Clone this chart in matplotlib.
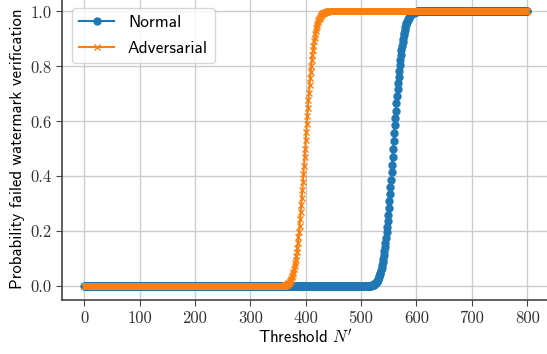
import numpy as np
import matplotlib
matplotlib.use("Agg")
import matplotlib.pyplot as plt

plt.rcParams["mathtext.fontset"] = "cm"

# threshold values N' (one point per integer)
thresholds = list(range(0, 801))

# normal model: rise between N'=516 and N'=600, 0 before, 1 after
normal_start = 516
normal_rise = [
    0.001, 0.002, 0.002, 0.003, 0.003, 0.004, 0.005, 0.006, 0.008, 0.009,
    0.011, 0.013, 0.016, 0.019, 0.023, 0.027, 0.032, 0.037, 0.043, 0.050,
    0.058, 0.067, 0.077, 0.087, 0.099, 0.112, 0.127, 0.142, 0.159, 0.177,
    0.196, 0.216, 0.238, 0.260, 0.284, 0.309, 0.334, 0.361, 0.388, 0.415,
    0.443, 0.472, 0.500,
    0.528, 0.557, 0.585, 0.612, 0.639, 0.666, 0.691, 0.716, 0.740, 0.762,
    0.784, 0.804, 0.823, 0.841, 0.858, 0.873, 0.888, 0.901, 0.913, 0.923,
    0.933, 0.942, 0.950, 0.957, 0.963, 0.968, 0.973, 0.977, 0.981, 0.984,
    0.987, 0.989, 0.991, 0.992, 0.993, 0.995, 0.996, 0.997, 0.997, 0.998,
    0.998, 0.999,
]

# adversarial model: rise between N'=360 and N'=439
adv_start = 360
adv_rise = [
    0.001, 0.002, 0.002, 0.003, 0.004, 0.005, 0.006, 0.007, 0.009, 0.011,
    0.013, 0.016, 0.019, 0.023, 0.027, 0.032, 0.038, 0.045, 0.053, 0.062,
    0.072, 0.083, 0.096, 0.109, 0.124, 0.141, 0.159, 0.178, 0.199, 0.221,
    0.244, 0.269, 0.295, 0.322, 0.350, 0.379, 0.409, 0.439, 0.469, 0.500,
    0.531, 0.561, 0.591, 0.621, 0.650, 0.678, 0.705, 0.731, 0.756, 0.779,
    0.801, 0.822, 0.841, 0.859, 0.876, 0.891, 0.904, 0.917, 0.928, 0.938,
    0.947, 0.955, 0.962, 0.968, 0.973, 0.977, 0.981, 0.984, 0.987, 0.989,
    0.991, 0.993, 0.994, 0.995, 0.996, 0.997, 0.998, 0.998, 0.999, 0.999,
]

def full_curve(start, rise):
    n = len(thresholds)
    return [0.0] * start + rise + [1.0] * (n - start - len(rise))

normal = full_curve(normal_start, normal_rise)
adversarial = full_curve(adv_start, adv_rise)

xticks = [0, 100, 200, 300, 400, 500, 600, 700, 800]
yticks = [0.0, 0.2, 0.4, 0.6, 0.8, 1.0]

sans = "cmss10"
serif = "cmr10"

fig = plt.figure(figsize=(5.47, 3.54), dpi=100)
ax = fig.add_axes([0.1133, 0.1525, 0.891, 0.854])

ax.plot(thresholds, normal, marker="o", markersize=5, color="#1f77b4", label="Normal")
ax.plot(thresholds, adversarial, marker="x", markersize=5, color="#ff7f0e", label="Adversarial")

ax.set_xlim(-40, 840)
ax.set_ylim(-0.05, 1.05)
ax.set_xticks(xticks)
ax.set_yticks(yticks)
ax.set_xticklabels([str(v) for v in xticks], fontfamily=serif, fontsize=12)
ax.set_yticklabels(["%.1f" % v for v in yticks], fontfamily=serif, fontsize=12)
ax.set_xlabel(r"Threshold $N'$", fontfamily=sans, fontsize=12, labelpad=2)
ax.set_ylabel("Probability failed watermark verification", fontfamily=sans, fontsize=12, labelpad=4)

ax.grid(True, color="#cccccc", linewidth=1)
ax.set_axisbelow(True)
for s in ["top", "right"]:
    ax.spines[s].set_visible(False)
for s in ["left", "bottom"]:
    ax.spines[s].set_color("#444444")
    ax.spines[s].set_linewidth(1.2)
ax.tick_params(colors="#444444", length=4, labelcolor="#333333")

leg = ax.legend(loc="upper left", prop={"family": sans, "size": 12.5}, framealpha=0.8,
                borderaxespad=0.6, labelspacing=0.6)

fig.savefig("out.png", dpi=100)
